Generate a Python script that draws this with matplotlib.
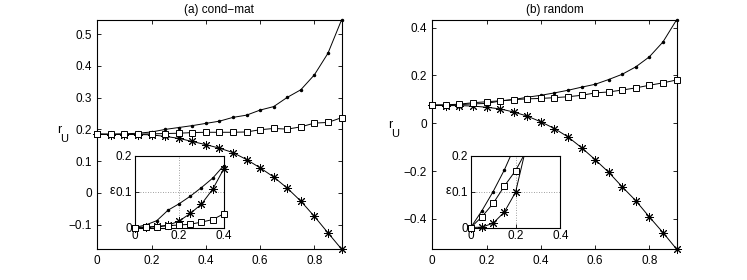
import numpy as np
import matplotlib
matplotlib.use("Agg")
import matplotlib.pyplot as plt

plt.rcParams['font.family'] = ['Liberation Sans', 'DejaVu Sans']
plt.rcParams['font.size'] = 8.5

# ---------------- data ----------------
x_main = [0, 0.05, 0.1, 0.15, 0.2, 0.25, 0.3, 0.35, 0.4, 0.45,
          0.5, 0.55, 0.6, 0.65, 0.7, 0.75, 0.8, 0.85, 0.9]

# (a) cond-mat
a_dot = [0.185, 0.185, 0.186, 0.188, 0.192, 0.200, 0.206, 0.212, 0.219, 0.226,
         0.238, 0.245, 0.261, 0.272, 0.301, 0.325, 0.372, 0.440, 0.545]
a_sq = [0.185, 0.185, 0.185, 0.185, 0.186, 0.187, 0.188, 0.190, 0.191, 0.191,
        0.191, 0.192, 0.199, 0.203, 0.201, 0.208, 0.220, 0.222, 0.237]
a_star = [0.185, 0.184, 0.184, 0.184, 0.183, 0.178, 0.172, 0.162, 0.152, 0.141,
          0.127, 0.105, 0.079, 0.050, 0.015, -0.026, -0.074, -0.126, -0.177]

# (b) random
b_dot = [0.076, 0.076, 0.078, 0.081, 0.083, 0.093, 0.099, 0.109, 0.117, 0.127,
         0.138, 0.151, 0.163, 0.183, 0.205, 0.236, 0.278, 0.340, 0.432]
b_sq = [0.076, 0.077, 0.080, 0.086, 0.090, 0.094, 0.099, 0.102, 0.104, 0.107,
        0.111, 0.117, 0.127, 0.131, 0.139, 0.148, 0.159, 0.169, 0.181]
b_star = [0.075, 0.074, 0.074, 0.072, 0.067, 0.060, 0.047, 0.030, 0.006, -0.022,
          -0.057, -0.102, -0.152, -0.205, -0.266, -0.324, -0.392, -0.457, -0.526]

# insets: epsilon vs x
x_in = [0, 0.05, 0.1, 0.15, 0.2, 0.25, 0.3, 0.35, 0.4]
a_eps_dot = [0.0, 0.007, 0.019, 0.048, 0.066, 0.087, 0.111, 0.137, 0.172]
a_eps_star = [0.0, 0.001, 0.003, 0.006, 0.018, 0.039, 0.065, 0.106, 0.163]
a_eps_sq = [0.0, 0.001, 0.002, 0.005, 0.007, 0.009, 0.015, 0.022, 0.038]

b_eps_dot = [0.0, 0.047, 0.100, 0.160, 0.230, 0.310, 0.400, 0.500, 0.610]
b_eps_sq = [0.0, 0.030, 0.067, 0.115, 0.158, 0.215, 0.280, 0.350, 0.430]
b_eps_star = [0.0, 0.001, 0.012, 0.043, 0.098, 0.230, 0.350, 0.480, 0.620]

titles = ['(a) cond\u2212mat', '(b) random']
main_yticks = [[-0.1, 0, 0.1, 0.2, 0.3, 0.4, 0.5], [-0.4, -0.2, 0, 0.2, 0.4]]
main_ylims = [(-0.177, 0.545), (-0.526, 0.432)]
xticks_main = [0, 0.2, 0.4, 0.6, 0.8]

W, H = 747, 280
fig = plt.figure(figsize=(W / 100, H / 100), dpi=100)

star_marker = (8, 2, 0)


def fmt(v):
    return ('%g' % v).replace('-', '\u2212')


def style_axes(ax, fs=8.5):
    ax.tick_params(direction='in', length=3, width=0.6, top=True, right=True,
                   labelsize=fs, pad=4, colors='black')
    for sp in ax.spines.values():
        sp.set_linewidth(0.8)


def plot_series(ax, x, dot, sq, star, ylim, ms_sq=5, ms_star=6.5):
    x = np.asarray(x)
    lo, hi = ylim
    for y, mk, kw in [
        (dot, '.', dict(ms=3)),
        (star, star_marker, dict(ms=ms_star, mew=0.7)),
        (sq, 's', dict(ms=ms_sq, mfc='white', mec='black', mew=0.7)),
    ]:
        y = np.asarray(y)
        ax.plot(x, y, '-', color='black', lw=0.7, clip_on=True, zorder=2)
        inside = (y >= lo - 1e-9) & (y <= hi + 1e-9)
        ax.plot(x[inside], y[inside], linestyle='none', color='black', marker=mk,
                clip_on=False, zorder=3, **kw)


main_rects = [
    (97.3 / W, 1 - 249 / H, (341.5 - 97.3) / W, (249 - 20) / H),
    (432.3 / W, 1 - 249 / H, (676.5 - 432.3) / W, (249 - 20) / H),
]
inset_rects = [
    (134.5 / W, 1 - 227.5 / H, (223.8 - 134.5) / W, (227.5 - 155.5) / H),
    (470.8 / W, 1 - 227.5 / H, (560.3 - 470.8) / W, (227.5 - 155.5) / H),
]

mains = [(a_dot, a_sq, a_star), (b_dot, b_sq, b_star)]
insets = [(a_eps_dot, a_eps_sq, a_eps_star), (b_eps_dot, b_eps_sq, b_eps_star)]
r_pos = [(59.5, 130), (390, 124.5)]
u_pos = [(64, 139.5), (395, 134)]

for i in range(2):
    ax = fig.add_axes(main_rects[i])
    d, s, st = mains[i]
    plot_series(ax, x_main, d, s, st, main_ylims[i])
    ax.set_xlim(0, 0.9)
    ax.set_ylim(*main_ylims[i])
    ax.set_xticks(xticks_main)
    ax.set_xticklabels([fmt(v) for v in xticks_main])
    ax.set_yticks(main_yticks[i])
    ax.set_yticklabels([fmt(v) for v in main_yticks[i]])
    style_axes(ax)
    ax.set_title(titles[i], fontsize=8.5, pad=5)
    fig.text(r_pos[i][0] / W, 1 - r_pos[i][1] / H, 'r', fontsize=9,
             ha='center', va='center')
    fig.text(u_pos[i][0] / W, 1 - u_pos[i][1] / H, 'U', fontsize=8,
             ha='center', va='center')

    ins = fig.add_axes(inset_rects[i])
    d, s, st = insets[i]
    plot_series(ins, x_in, d, s, st, (0, 0.2), ms_sq=5, ms_star=6.5)
    ins.set_xlim(0, 0.4)
    ins.set_ylim(0, 0.2)
    ins.set_xticks([0, 0.2, 0.4])
    ins.set_xticklabels(['0', '0.2', '0.4'])
    ins.set_yticks([0, 0.1, 0.2])
    ins.set_yticklabels(['0', '0.1', '0.2'])
    ins.grid(True, linestyle=(0, (1, 2)), color='gray', linewidth=0.6)
    style_axes(ins)
    ins.tick_params(pad=2, top=False, right=False)
    ins.set_ylabel('\u03b5', rotation=0, fontsize=9, labelpad=2, va='center')

fig.savefig('out.png', dpi=100)
